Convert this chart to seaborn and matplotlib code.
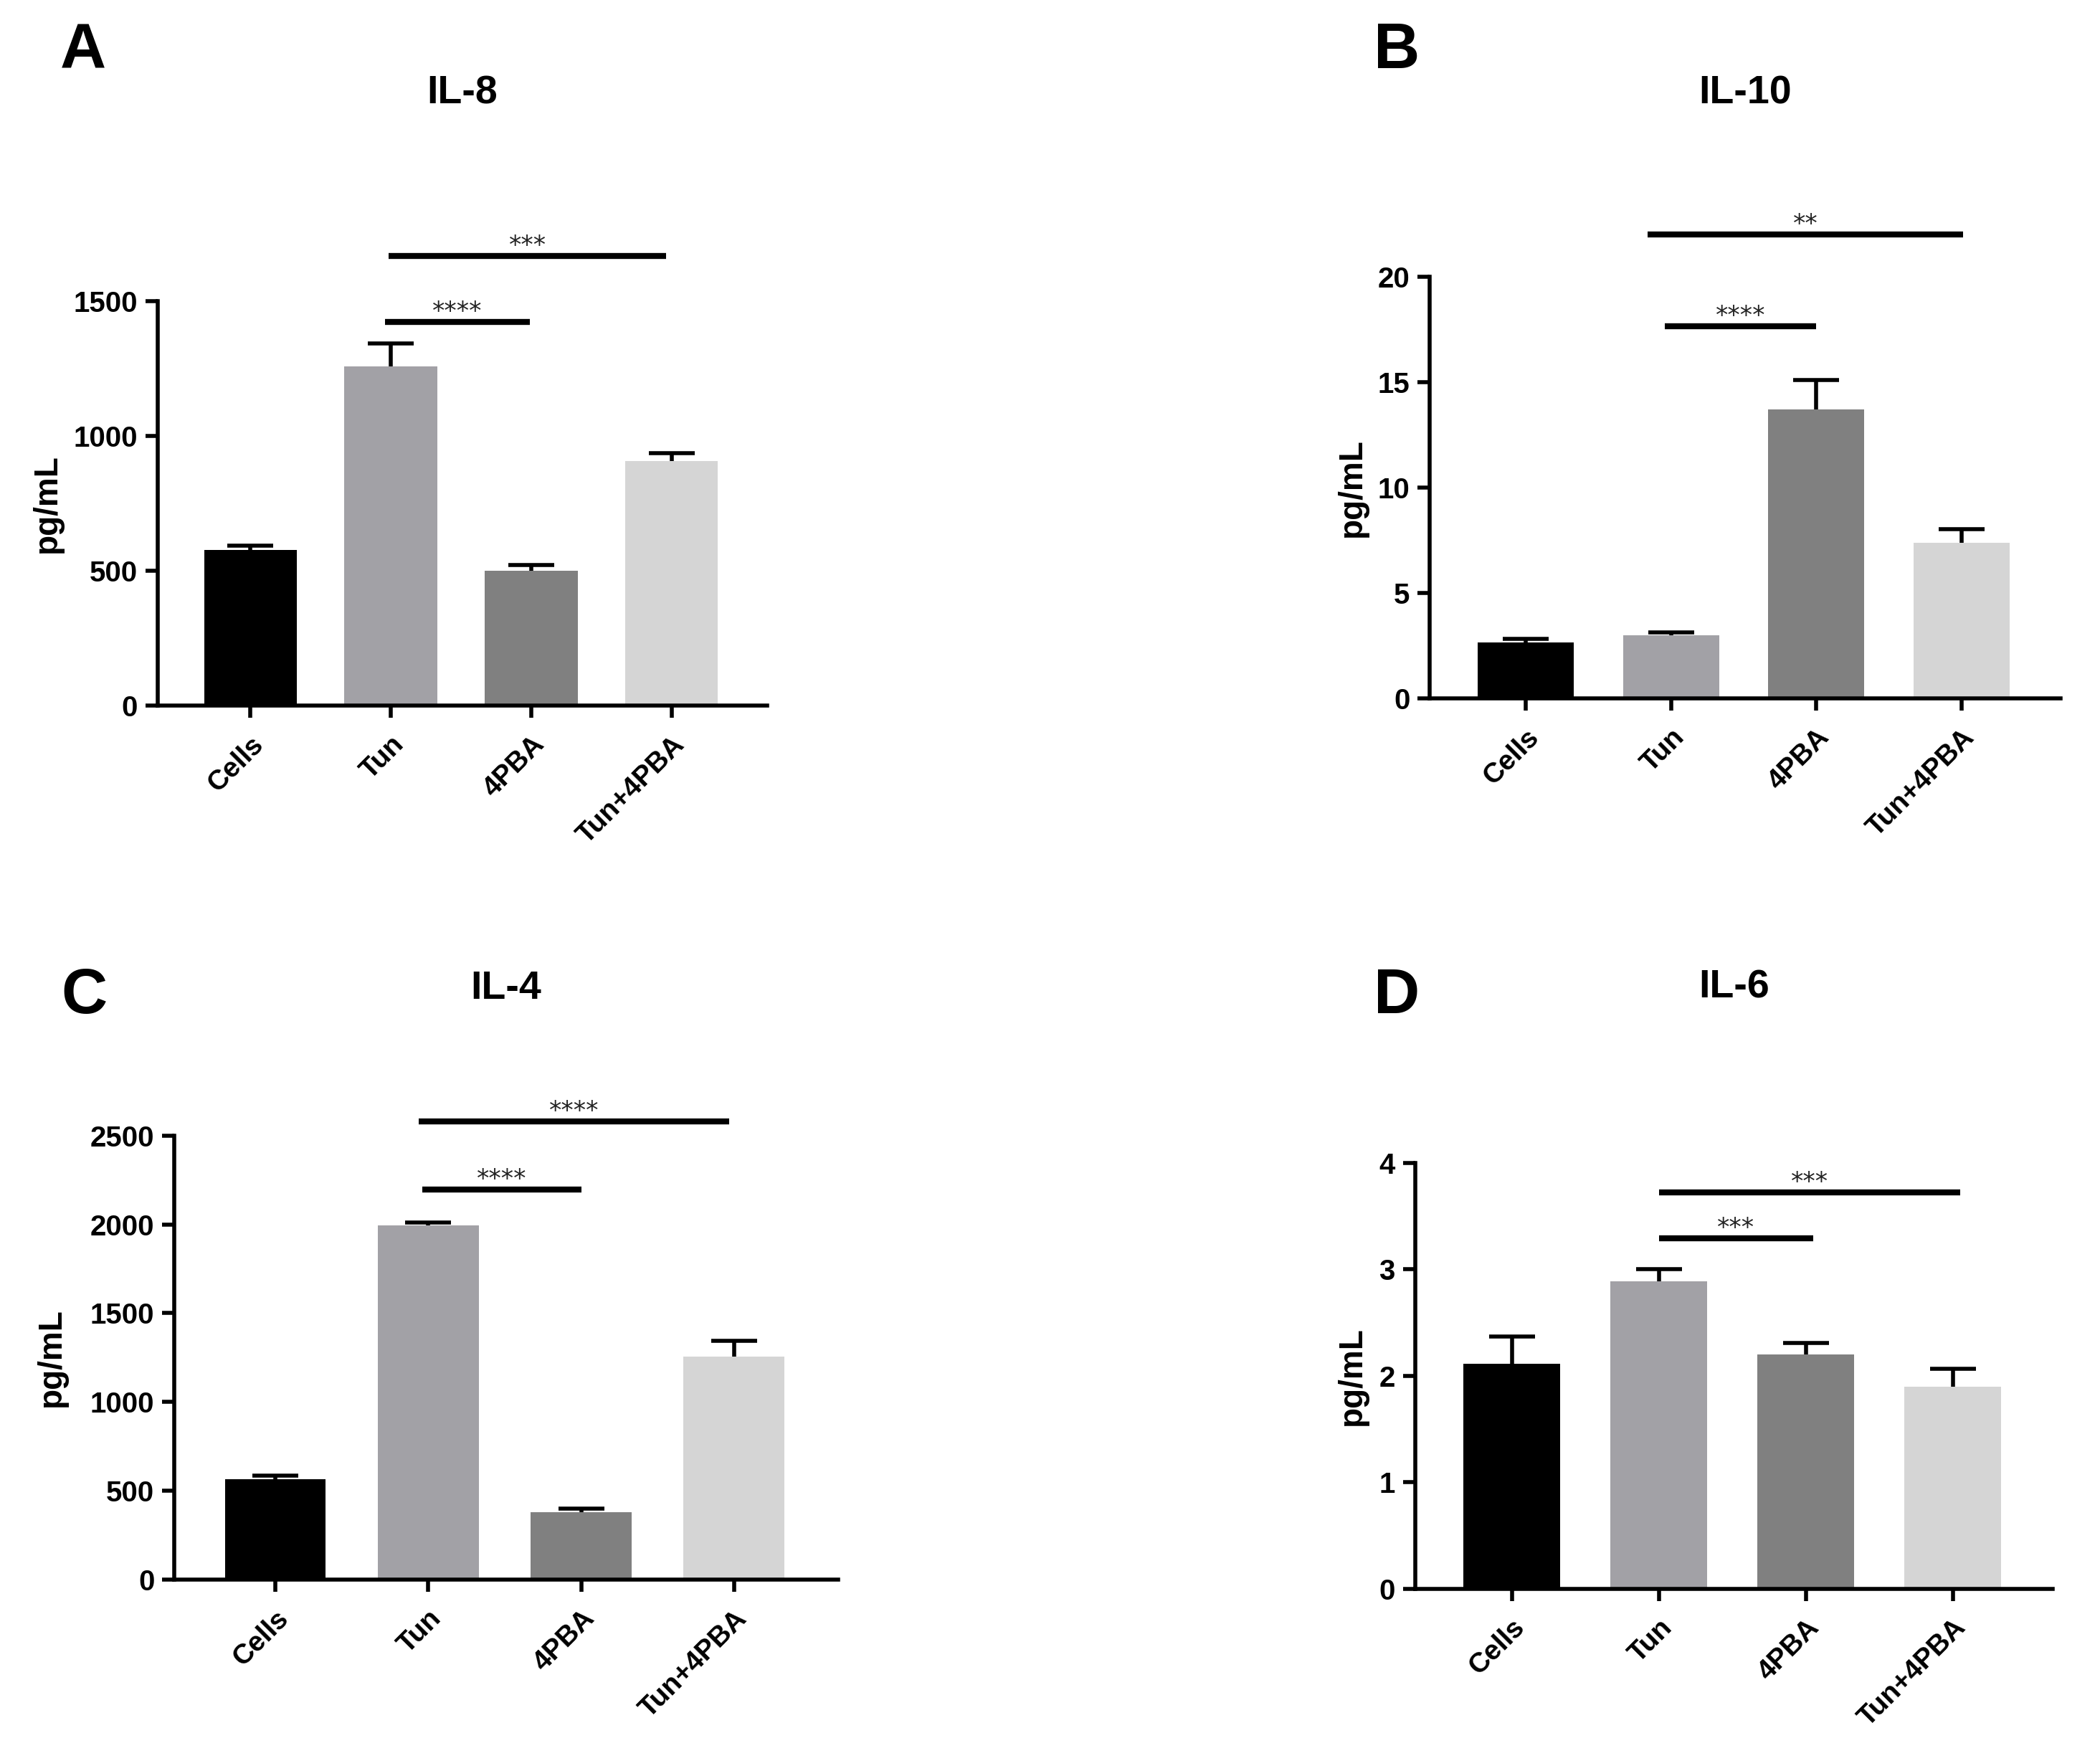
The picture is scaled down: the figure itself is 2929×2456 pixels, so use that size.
import seaborn as sns
import matplotlib.pyplot as plt
import numpy as np

# ── data ────────────────────────────────────────────────────
groups = ['Cells', 'Tun', '4PBA', 'Tun+4PBA']
bar_colors = ['#000000', '#a2a1a6', '#808080', '#d5d5d5']

il8_mean = [578, 1258, 500, 908]
il8_err = [15, 85, 23, 28]
il10_mean = [2.65, 3.0, 13.7, 7.4]
il10_err = [0.17, 0.13, 1.42, 0.62]
il4_mean = [567, 1995, 380, 1255]
il4_err = [20, 15, 20, 88]
il6_mean = [2.115, 2.89, 2.2, 1.895]
il6_err = [0.255, 0.11, 0.105, 0.17]

# significance bars: (x start, x end, y level, label)
il8_sig = [(0.96, 1.99, 1423, '****'), (0.985, 2.96, 1667, '***')]
il10_sig = [(0.96, 2.0, 17.64, '****'), (0.84, 3.01, 22.0, '**')]
il4_sig = [(0.96, 2.0, 2195, '****'), (0.94, 2.97, 2578, '****')]
il6_sig = [(1.0, 2.05, 3.29, '***'), (1.0, 3.05, 3.725, '***')]

il8_ticks = [0, 500, 1000, 1500]
il10_ticks = [0, 5, 10, 15, 20]
il4_ticks = [0, 500, 1000, 1500, 2000, 2500]
il6_ticks = [0, 1, 2, 3, 4]

sns.set_theme(style='ticks')
plt.rcParams['font.family'] = ['Liberation Sans', 'DejaVu Sans']
plt.rcParams['font.weight'] = 'bold'
plt.rcParams['text.color'] = 'black'
plt.rcParams['axes.labelcolor'] = 'black'
plt.rcParams['xtick.color'] = 'black'
plt.rcParams['ytick.color'] = 'black'

fig = plt.figure(figsize=(29.29, 24.56), dpi=100)

panels = [
    # letter, title, means, errs, sig, ticks, axes rect, ylabel x, title y, letter xy
    ('A', 'IL-8', il8_mean, il8_err, il8_sig, il8_ticks,
     [0.0751, 0.5993, 0.2902, 0.2296], -0.155, 0.9470, (0.0396, 0.9705)),
    ('B', 'IL-10', il10_mean, il10_err, il10_sig, il10_ticks,
     [0.6808, 0.6034, 0.3004, 0.2394], -0.098, 0.9470, (0.6651, 0.9705)),
    ('C', 'IL-4', il4_mean, il4_err, il4_sig, il4_ticks,
     [0.0830, 0.1030, 0.3161, 0.2522], -0.161, 0.4385, (0.0400, 0.4340)),
    ('D', 'IL-6', il6_mean, il6_err, il6_sig, il6_ticks,
     [0.6738, 0.0979, 0.3037, 0.2417], -0.074, 0.4393, (0.6651, 0.4340)),
]

for letter, title, means, errs, sig, ticks, rect, ylab_x, title_y, letter_xy in panels:
    ax = fig.add_axes(rect)
    sns.barplot(x=groups, y=means, hue=groups, palette=bar_colors, legend=False,
                saturation=1, width=0.66, linewidth=0, errorbar=None, ax=ax)

    # one-sided error bars (upper only)
    _, caps, _ = ax.errorbar(np.arange(len(groups)), means,
                             yerr=[np.zeros(len(errs)), errs], fmt='none',
                             ecolor='black', elinewidth=4, capsize=23,
                             capthick=4, zorder=1)
    caps[0].set_visible(False)

    # significance lines
    for x0, x1, y, lab in sig:
        ax.plot([x0, x1], [y, y], color='black', lw=6, solid_capstyle='butt',
                clip_on=False)
        ax.annotate(lab, ((x0 + x1) / 2, y), xytext=(0, 3),
                    textcoords='offset points', ha='center', va='baseline',
                    fontsize=25, color='#222222', fontweight='normal',
                    family='DejaVu Sans', annotation_clip=False)

    ax.set_xlim(-0.66, 3.68)
    ax.set_ylim(ticks[0], ticks[-1])
    ax.set_yticks(ticks)
    ax.set_yticklabels([str(t) for t in ticks], fontsize=29, fontweight='bold')
    ax.set_xticks(range(len(groups)))
    ax.set_xticklabels(groups, rotation=45, ha='right', rotation_mode='anchor',
                       fontsize=28, fontweight='bold')
    ax.tick_params(axis='both', length=12, width=4, color='black', pad=8)
    ax.tick_params(axis='x', pad=14)
    for side in ['left', 'bottom']:
        ax.spines[side].set_linewidth(4)
        ax.spines[side].set_color('black')
    sns.despine(ax=ax)

    ax.set_ylabel('pg/mL', fontsize=33, fontweight='bold')
    ax.yaxis.set_label_coords(ylab_x, 0.5)
    ax.set_xlabel('')

    fig.text(rect[0] + rect[2] / 2, title_y, title, ha='center', va='center',
             fontsize=40, fontweight='bold')
    fig.text(letter_xy[0], letter_xy[1], letter, ha='center', va='center',
             fontsize=64, fontweight='bold')

plt.savefig('out.png', dpi=100, facecolor='white')
plt.close()
